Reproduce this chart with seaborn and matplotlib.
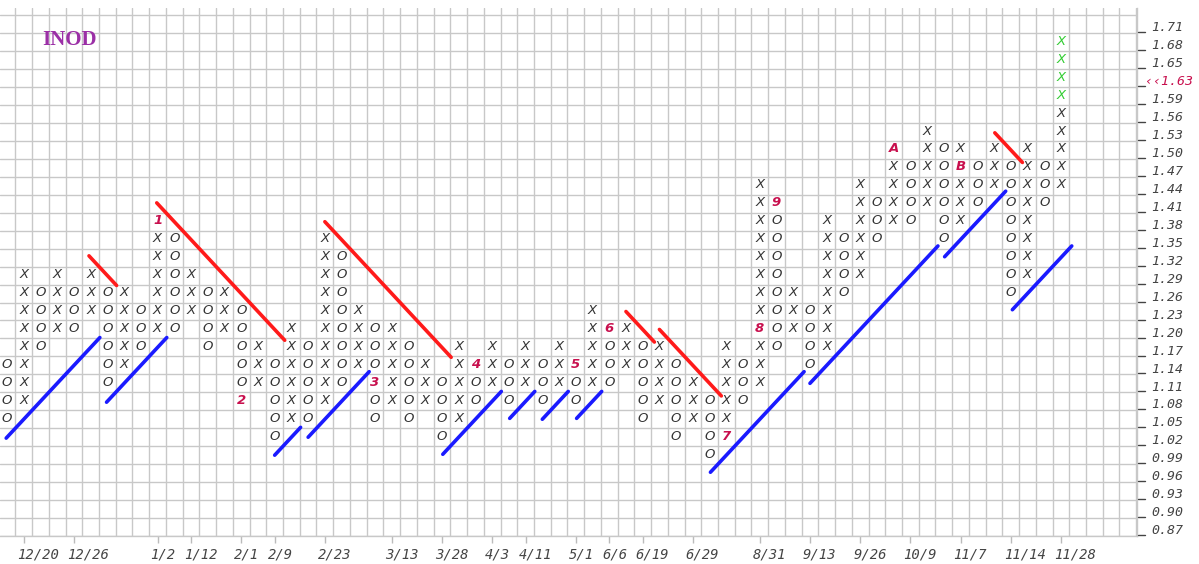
import numpy as np
import pandas as pd
import matplotlib
matplotlib.use("Agg")
import matplotlib.pyplot as plt
import matplotlib.transforms as mtransforms
import seaborn as sns

# ---------------- data ----------------
ticker = "INOD"
price_levels = ["0.87", "0.90", "0.93", "0.96", "0.99", "1.02", "1.05", "1.08",
                "1.11", "1.14", "1.17", "1.20", "1.23", "1.26", "1.29", "1.32",
                "1.35", "1.38", "1.41", "1.44", "1.47", "1.50", "1.53", "1.56",
                "1.59", "1.62", "1.65", "1.68", "1.71"]
last_price = "1.63"
last_price_row = 25

first_col_kind = "O"
col_bottom = [6, 7, 10, 11, 11, 12, 8, 9, 10, 11,
              11, 12, 10, 11, 7, 8, 5, 6, 6, 7,
              8, 9, 6, 7, 6, 7, 5, 6, 7, 8,
              7, 8, 7, 8, 7, 8, 8, 9, 6, 7,
              5, 6, 4, 5, 7, 8, 10, 11, 9, 10,
              13, 14, 16, 17, 17, 18, 16, 17, 18, 19,
              13, 14, 18, 19]
col_top = [9, 14, 13, 14, 13, 14, 13, 13, 12, 17,
           16, 14, 13, 13, 12, 10, 9, 11, 10, 16,
           15, 12, 11, 11, 10, 9, 8, 10, 9, 10,
           9, 10, 9, 10, 9, 12, 11, 11, 10, 10,
           9, 8, 7, 10, 9, 19, 18, 13, 12, 17,
           16, 19, 18, 21, 20, 22, 21, 21, 20, 21,
           20, 21, 20, 27]

marker_cols = [9, 14, 22, 28, 34, 36, 43, 45, 46, 53, 57]
marker_rows = [17, 7, 8, 9, 9, 11, 5, 11, 18, 21, 20]
marker_labels = ["1", "2", "3", "4", "5", "6", "7", "8", "9", "A", "B"]

recent_col = 63
recent_from_row = 24

date_cols = [1, 4, 9, 11, 14, 16, 19, 23, 26, 29, 31, 34, 36, 38, 41, 45,
             48, 51, 54, 57, 60, 63]
date_labels = ["12/20", "12/26", "1/2", "1/12", "2/1", "2/9", "2/23", "3/13",
               "3/28", "4/3", "4/11", "5/1", "6/6", "6/19", "6/29", "8/31",
               "9/13", "9/26", "10/9", "11/7", "11/14", "11/28"]

support_x0 = [-0.05, 5.95, 16.0, 18.0, 26.05, 30.05, 32.0, 34.05, 42.05, 48.0, 56.05, 60.1]
support_x1 = [5.55, 9.55, 17.55, 21.65, 29.55, 31.55, 33.55, 35.55, 47.65, 55.65, 59.7, 63.65]
support_b = [5, 1, -12, -13, -22, -24, -26, -28, -39, -40, -41, -48]
resist_x0 = [4.9, 8.95, 19.0, 37.0, 39.0, 59.05]
resist_x1 = [6.55, 16.6, 26.55, 38.7, 42.7, 60.7]
resist_b = [20, 27, 36, 49, 50, 81]

# ---------------- styling ----------------
sns.set_theme(style="white")
plt.rcParams["font.family"] = ["DejaVu Sans"]

SYM_COLOR = "#333333"
MARK_COLOR = "#c8104e"
GREEN = "#33cc33"
GRID = "#c8c8c8"

W, H = 1199, 564
fig = plt.figure(figsize=(W / 100, H / 100), dpi=100)
ax = fig.add_axes([0, 28 / H, 1137 / W, 528 / H])
ax.set_xlim(-0.42, 67.55)
ax.set_ylim(-0.5, 28.9)

# grid (box boundaries)
ax.set_xticks(np.arange(-0.5, 68, 1), minor=True)
ax.set_yticks(np.arange(-0.5, 29.5, 1), minor=True)
ax.grid(which="minor", color=GRID, linewidth=1.0)
ax.grid(which="major", visible=False)
for s in ["top", "left"]:
    ax.spines[s].set_visible(False)
for s in ["bottom", "right"]:
    ax.spines[s].set_color(GRID)
    ax.spines[s].set_linewidth(1.0)
ax.tick_params(which="minor", length=0)

# ---------------- boxes ----------------
markers = {(c, r): l for c, r, l in zip(marker_cols, marker_rows, marker_labels)}
records = []
kinds = ["O", "X"] if first_col_kind == "O" else ["X", "O"]
for c, (lo, hi) in enumerate(zip(col_bottom, col_top)):
    k = kinds[c % 2]
    for r in range(lo, hi + 1):
        if (c, r) in markers:
            records.append((c, r, markers[(c, r)], MARK_COLOR))
        elif c == recent_col and r >= recent_from_row:
            records.append((c, r, k, GREEN))
        else:
            records.append((c, r, k, SYM_COLOR))
boxes = pd.DataFrame(records, columns=["col", "row", "sym", "color"])
for _, b in boxes.iterrows():
    ax.text(b["col"], b["row"] + 0.05, b["sym"], ha="center", va="center",
            fontsize=9.5, style="italic", color=b["color"], zorder=4,
            fontweight="bold" if b["color"] == MARK_COLOR else "normal")

# ---------------- trend lines ----------------
tl = []
for i, (a, e, c) in enumerate(zip(support_x0, support_x1, support_b)):
    tl += [dict(x=a, y=a + c, line=f"s{i}", kind="support"),
           dict(x=e, y=e + c, line=f"s{i}", kind="support")]
for i, (a, e, c) in enumerate(zip(resist_x0, resist_x1, resist_b)):
    tl += [dict(x=a, y=-a + c, line=f"r{i}", kind="resistance"),
           dict(x=e, y=-e + c, line=f"r{i}", kind="resistance")]
trend = pd.DataFrame(tl)
sns.lineplot(data=trend, x="x", y="y", hue="kind", units="line", estimator=None,
             sort=False, palette={"support": "#1a1aff", "resistance": "#ff1a1a"},
             linewidth=2.6, legend=False, ax=ax, zorder=3)
ax.set_xlabel("")
ax.set_ylabel("")
ax.set_xlim(-0.42, 67.55)
ax.set_ylim(-0.5, 28.9)

# ---------------- axes labels ----------------
mono = {"family": "DejaVu Sans Mono", "style": "oblique"}
ax.set_xticks(date_cols)
ax.set_xticklabels(date_labels, fontdict=mono, fontsize=10, color="#444444", ha="left")
ax.tick_params(axis="x", which="major", length=5, width=1, color="#bbbbbb",
               direction="out", pad=3, bottom=True)
shift = mtransforms.ScaledTranslation(-7 / 100, 0, fig.dpi_scale_trans)
for lab in ax.get_xticklabels():
    lab.set_transform(lab.get_transform() + shift)

ylabels = list(price_levels)
ylabels[last_price_row] = "\u2039\u2039" + last_price
ax.yaxis.tick_right()
ax.set_yticks([r - 0.12 for r in range(len(price_levels))])
ax.set_yticklabels(ylabels, fontdict=mono, fontsize=9.5, color="#444444")
ax.tick_params(axis="y", which="major", length=0, pad=10)
ax.get_yticklabels()[last_price_row].set_color(MARK_COLOR)
ax.get_yticklabels()[last_price_row].set_transform(
    ax.get_yticklabels()[last_price_row].get_transform()
    + mtransforms.ScaledTranslation(-6 / 100, 0, fig.dpi_scale_trans))
# small "_" marks beside price labels
for r in range(len(price_levels)):
    ax.plot([67.6, 68.0], [r - 0.45, r - 0.45], color="#444444", lw=1,
            clip_on=False, zorder=5)

# ---------------- title ----------------
ax.text(42 / 1137, (536 - 40) / 528, ticker, transform=ax.transAxes,
        fontsize=15, fontweight="bold", family="Liberation Serif",
        color="#9b2fa6", ha="left", va="center")

fig.savefig("out.png", dpi=100)
